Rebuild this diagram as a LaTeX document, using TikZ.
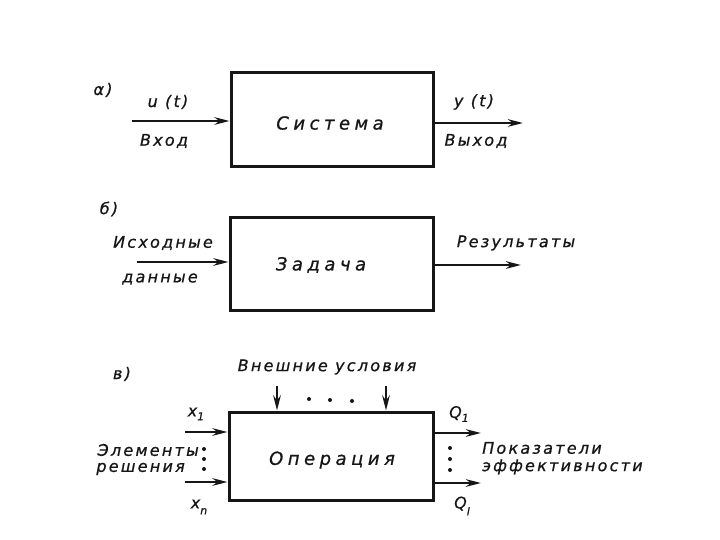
\documentclass[tikz,border=0pt]{standalone}
\usepackage{fontspec}
\newfontfamily\hand[LetterSpace=14,FakeBold=0.8]{DejaVu Sans}
\newfontfamily\handw[LetterSpace=25,FakeBold=0.8]{DejaVu Sans}
\usetikzlibrary{arrows.meta}
\definecolor{ink}{HTML}{161616}
\tikzset{
  blk/.style={draw=ink, line width=3pt, minimum width=#1, inner sep=0},
  arr/.style={draw=ink, line width=2.9pt, -{Stealth[length=15pt,width=7.5pt]}},
  lbl/.style={text=ink, inner sep=0, font=\hand\itshape\fontsize{16}{18}\selectfont},
  ttl/.style={text=ink, inner sep=0, font=\handw\itshape\fontsize{18}{20}\selectfont},
  dotmark/.style={fill=ink, circle, inner sep=0, minimum size=4pt}
}
\newcommand{\subs}[2]{\raisebox{#1}{\fontsize{11}{12}\selectfont #2}}
\begin{document}
\begin{tikzpicture}[x=1pt,y=-1pt]
\useasboundingbox (0,0) rectangle (720,540);
% ---------- a)
\node[lbl] (la) at (103,90) {α)};
\node[blk=202pt, minimum height=94pt] (sys) at (332,120) {};
\node[ttl] (tsys) at (330,123) {Система};
\coordinate (ain) at (132,121);
\coordinate (aout) at (523,123);
\draw[arr] (ain) -- (ain -| sys.west);
\draw[arr] (sys.east |- aout) -- (aout);
\node[lbl] (ut) at (168,102) {u (t)};
\node[lbl] (vh) at (164,141) {Вход};
\node[lbl] (yt) at (474,102) {y (t)};
\node[lbl] (vyh) at (476,141) {Выход};
% ---------- b)
\node[lbl] (lb) at (109,209) {б)};
\node[blk=203pt, minimum height=92pt] (task) at (331.5,264) {};
\node[ttl] (ttask) at (321,265) {Задача};
\coordinate (bin) at (137,262);
\coordinate (bout) at (521,265);
\draw[arr] (bin) -- (bin -| task.west);
\draw[arr] (task.east |- bout) -- (bout);
\node[lbl] (isx) at (163,243) {Исходные};
\node[lbl] (dan) at (160,279) {данные};
\node[lbl] (res) at (516,243) {Результаты};
% ---------- v)
\node[lbl] (lv) at (122,374) {в)};
\node[blk=204pt, minimum height=88pt] (oper) at (331,456) {};
\node[ttl] (toper) at (332,460) {Операция};
\node[lbl] (ext) at (327,367) {Внешние условия};
\coordinate (t1) at (277,386);
\coordinate (t2) at (386,386);
\draw[arr] (t1) -- (t1 |- oper.north);
\draw[arr] (t2) -- (t2 |- oper.north);
\node[dotmark] (td1) at (309,399) {};
\node[dotmark] (td2) at (330,400) {};
\node[dotmark] (td3) at (352,401) {};
\coordinate (x1) at (185,432);
\coordinate (xn) at (185,482);
\draw[arr] (x1) -- (x1 -| oper.west);
\draw[arr] (xn) -- (xn -| oper.west);
\coordinate (q1) at (481,433);
\coordinate (ql) at (481,483);
\draw[arr] (oper.east |- q1) -- (q1);
\draw[arr] (oper.east |- ql) -- (ql);
\node[lbl] (lx1) at (196,414) {x\subs{-4pt}{1}};
\node[lbl] (lxn) at (199,507) {x\subs{-6pt}{n}};
\node[lbl] (lq1) at (459,414) {Q\subs{-4pt}{1}};
\node[lbl] (lql) at (462,506) {Q\subs{-7pt}{l}};
\node[lbl, anchor=east] (el) at (199,450) {Элементы};
\node[lbl, anchor=east] (re) at (185,469) {решения};
\node[dotmark] (ld1) at (204,449) {};
\node[dotmark] (ld2) at (204,459) {};
\node[dotmark] (ld3) at (204,469) {};
\node[dotmark] (rd1) at (450,448) {};
\node[dotmark] (rd2) at (450,459) {};
\node[dotmark] (rd3) at (450,470) {};
\node[lbl, anchor=west] (pok) at (482,448) {Показатели};
\node[lbl, anchor=west] (eff) at (482,467) {эффективности};
\end{tikzpicture}
\end{document}
